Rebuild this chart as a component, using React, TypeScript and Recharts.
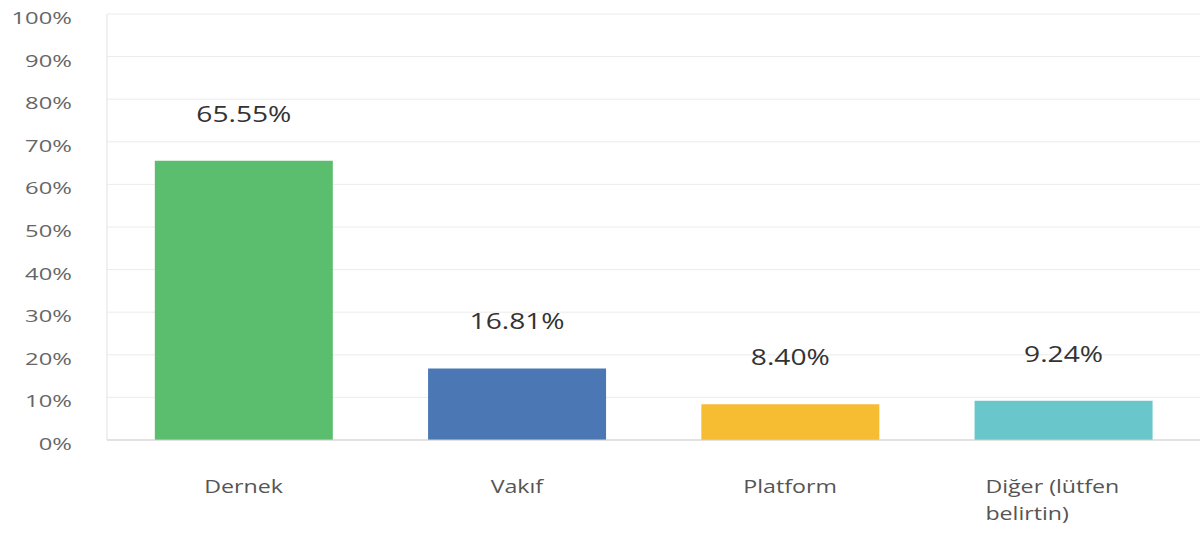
import React from "react";
import { BarChart, Bar, XAxis, YAxis, CartesianGrid, LabelList, Cell } from "recharts";

const categories = ["Dernek", "Vakıf", "Platform", "Diğer (lütfen belirtin)"];
const values = [65.55, 16.81, 8.4, 9.24];
const colors = ["#5bbe6e", "#4b78b4", "#f6bd33", "#69c6cb"];
const yTicks = [0, 10, 20, 30, 40, 50, 60, 70, 80, 90, 100];
// category label lines as drawn under the axis
const tickLines: Record<string, string[]> = {
  "Diğer (lütfen belirtin)": ["Diğer (lütfen", "belirtin)"],
};

const data = categories.map((name, i) => ({ name, value: values[i] }));

const FONT = "'Open Sans', 'DejaVu Sans', sans-serif";

// the original text is drawn with a wide face, so stretch it horizontally
const CategoryTick = (props: any) => {
  const { x, y, payload } = props;
  const lines = tickLines[payload.value] || [payload.value];
  const multi = lines.length > 1;
  const sx = 1.22;
  const left = -78 / sx;
  return (
    <g transform={`translate(${x},${y}) scale(${sx},1)`}>
      <text
        x={multi ? left : 0}
        y={0}
        textAnchor={multi ? "start" : "middle"}
        fill="#555"
        fontSize={19}
        fontFamily={FONT}
      >
        {lines.map((l, i) => (
          <tspan key={i} x={multi ? left : 0} dy={i === 0 ? 45 : 27}>
            {l}
          </tspan>
        ))}
      </text>
    </g>
  );
};

const PercentTick = (props: any) => {
  const { x, y, payload } = props;
  return (
    <g transform={`translate(${x},${y + 10}) scale(1.4,1)`}>
      <text x={0} y={0} textAnchor="end" fill="#666" fontSize={17} fontFamily={FONT}>
        {payload.value}%
      </text>
    </g>
  );
};

const ValueLabel = (props: any) => {
  const { x, y, width, value } = props;
  return (
    <g transform={`translate(${x + width / 2},${y - 39}) scale(1.28,1)`}>
      <text x={0} y={0} textAnchor="middle" fill="#333" fontSize={22} fontFamily={FONT}>
        {value.toFixed(2)}%
      </text>
    </g>
  );
};

export default function App() {
  return (
    <div style={{ position: "absolute", left: 0, top: 0, background: "#fff" }}>
      <BarChart
        width={1203}
        height={533}
        data={data}
        margin={{ top: 14, right: 3, left: 0, bottom: 63 }}
        barCategoryGap="17.5%"
      >
        <CartesianGrid vertical={false} stroke="#ececec" />
        <XAxis
          dataKey="name"
          height={30}
          axisLine={{ stroke: "#cfcfcf" }}
          tickLine={false}
          tick={<CategoryTick />}
          interval={0}
        />
        <YAxis
          width={107}
          domain={[0, 100]}
          ticks={yTicks}
          axisLine={{ stroke: "#e2e2e2" }}
          tickLine={false}
          tickSize={0}
          tickMargin={35}
          tick={<PercentTick />}
        />
        <Bar dataKey="value" isAnimationActive={false}>
          {data.map((d, i) => (
            <Cell key={d.name} fill={colors[i]} />
          ))}
          <LabelList dataKey="value" content={<ValueLabel />} />
        </Bar>
      </BarChart>
    </div>
  );
}
